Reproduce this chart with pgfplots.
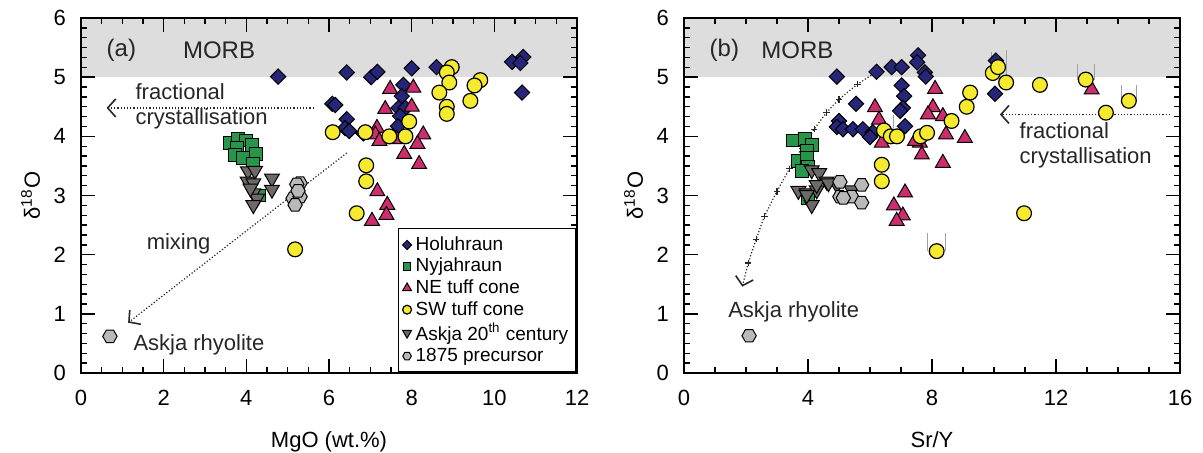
\documentclass[border=0pt]{standalone}
\usepackage{pgfplots}
\pgfplotsset{compat=1.18}
\usepackage{fontspec}
\setmainfont{Liberation Sans}
\usetikzlibrary{arrows.meta}

\definecolor{holu}{RGB}{38,38,120}
\definecolor{nyja}{RGB}{40,150,72}
\definecolor{necone}{RGB}{205,45,110}
\definecolor{swcone}{RGB}{245,234,45}
\definecolor{askja}{RGB}{110,105,105}
\definecolor{prec}{RGB}{185,185,185}
\definecolor{morb}{RGB}{221,221,221}
\definecolor{errc}{RGB}{160,160,160}

\pgfdeclareplotmark{hexagon*}{%
  \pgfpathmoveto{\pgfqpointpolar{0}{\pgfplotmarksize}}%
  \pgfpathlineto{\pgfqpointpolar{60}{\pgfplotmarksize}}%
  \pgfpathlineto{\pgfqpointpolar{120}{\pgfplotmarksize}}%
  \pgfpathlineto{\pgfqpointpolar{180}{\pgfplotmarksize}}%
  \pgfpathlineto{\pgfqpointpolar{240}{\pgfplotmarksize}}%
  \pgfpathlineto{\pgfqpointpolar{300}{\pgfplotmarksize}}%
  \pgfpathclose
  \pgfusepathqfillstroke}

\tikzset{
  annot/.style={font=\fontsize{11}{13}\selectfont, text=black!85},
  big/.style={font=\fontsize{12}{14}\selectfont, text=black!85},
}

\pgfplotsset{
  myax/.style={
    scale only axis, width=248pt, height=177.5pt,
    ymin=0, ymax=6, ytick={0,1,...,6}, minor y tick num=5,
    tick align=inside, major tick length=7pt, minor tick length=3pt,
    axis on top,
    axis line style={line width=0.8pt},
    every tick/.style={black, line width=0.7pt},
    /pgf/number format/assume math mode=true,
    every tick label/.append style={font=\fontsize{11}{13}\selectfont},
    xticklabel style={yshift=-5pt},
    yticklabel style={xshift=-4pt},
    label style={font=\fontsize{11}{13}\selectfont},
    xlabel style={yshift=-6pt},
    ylabel={δ\textsuperscript{18}O},
  },
  holu/.style={only marks, mark=square*, mark size=2.7pt, mark options={rotate=45, fill=holu, draw=black, line width=0.5pt}},
  nyja/.style={only marks, mark=square*, mark size=3.2pt, mark options={fill=nyja, draw=black, line width=0.5pt}},
  necone/.style={only marks, mark=triangle*, mark size=4.3pt, mark options={fill=necone, draw=black, line width=0.5pt}},
  swcone/.style={only marks, mark=*, mark size=3.7pt, mark options={fill=swcone, draw=black, line width=0.6pt}},
  askja/.style={only marks, mark=triangle*, mark size=4.3pt, mark options={rotate=180, fill=askja, draw=black, line width=0.5pt}},
  prec/.style={only marks, mark=hexagon*, mark size=3.6pt, mark options={fill=prec, draw=black, line width=0.5pt}},
  errb/.style={errc, line width=0.5pt, forget plot},
  fcarrow/.style={densely dotted, line width=0.6pt, black!85, -{Straight Barb[length=4pt,width=9pt,line width=0.8pt]}, forget plot},
}

\begin{document}
\begin{tikzpicture}
\begin{axis}[myax,
  xmin=0, xmax=12, xtick={0,2,...,12}, minor x tick num=3,
  xlabel={MgO (wt.\%)},
  legend style={at={(1,0)}, anchor=south east, draw=black, line width=0.8pt,
    font=\fontsize{9.5}{11}\selectfont, inner sep=2pt, row sep=-1.6pt},
  legend cell align=left,
  legend image post style={scale=0.6},
]
\addplot[fill=morb, draw=none, forget plot] coordinates {(0,5) (12,5) (12,6) (0,6)};

\addplot[fcarrow] coordinates {(5.63,4.48) (0.62,4.48)};
\addplot[fcarrow] coordinates {(6.43,3.72) (1.14,0.85)};

\addplot[holu] coordinates {
(4.77,5.01)(6.43,5.08)(7.02,5.0)(7.17,5.09)(8.0,5.15)(8.6,5.17)(10.43,5.26)(10.7,5.34)(10.63,5.24)(10.67,4.74)
(6.08,4.55)(6.15,4.53)(6.43,4.29)(6.39,4.14)(6.49,4.09)(7.8,4.87)(7.76,4.68)(7.68,4.48)(7.85,4.48)(7.72,4.34)(7.67,4.17)(6.83,4.05)};
\addlegendentry{Holuhraun}
\addplot[nyja] coordinates {
(3.61,3.89)(3.8,3.95)(3.99,3.93)(4.13,3.85)(3.77,3.8)(3.73,3.69)(3.92,3.63)(4.24,3.7)(4.17,3.53)(4.31,3.0)};
\addlegendentry{Nyjahraun}
\addplot[necone] coordinates {
(7.48,4.8)(8.04,4.82)(7.36,4.46)(8.0,4.5)(7.16,4.14)(7.12,4.03)(7.22,3.92)(7.64,3.95)(8.28,4.03)(8.14,3.87)
(7.82,3.7)(8.18,3.53)(7.17,3.07)(7.41,2.84)(7.39,2.67)(7.04,2.57)};
\addlegendentry{NE tuff cone}
\addplot[swcone] coordinates {
(8.97,5.17)(8.85,5.08)(8.91,4.91)(8.67,4.74)(9.66,4.95)(9.52,4.86)(9.42,4.6)(8.85,4.5)(8.85,4.38)(7.94,4.25)
(6.09,4.07)(6.88,4.07)(7.46,4.0)(7.85,4.0)(6.9,3.51)(6.9,3.24)(6.67,2.7)(5.18,2.09)};
\addlegendentry{SW tuff cone}
\addplot[askja] coordinates {
(4.04,3.41)(4.21,3.42)(4.03,3.24)(4.17,3.21)(4.62,3.29)(4.62,3.1)(4.17,3.04)(4.26,2.95)(4.17,2.84)(4.1,3.12)};
\addlegendentry{Askja 20\textsuperscript{th} century}
\addplot[prec] coordinates {
(5.3,3.21)(5.22,3.19)(5.13,2.95)(5.3,2.98)(5.18,2.84)(5.25,3.08)};
\addlegendentry{1875 precursor}
\addplot[prec, forget plot] coordinates {(0.7,0.62)};

\node[big, anchor=west] at (axis cs:0.45,5.45) {(a)};
\node[big] at (axis cs:3.34,5.45) {MORB};
\node[annot, anchor=west, align=left, font=\fontsize{11}{12.5}\selectfont] at (axis cs:1.15,4.5) {fractional\\crystallisation};
\node[annot] at (axis cs:2.36,2.19) {mixing};
\node[annot, anchor=west] at (axis cs:1.1,0.48) {Askja rhyolite};
\end{axis}

\begin{axis}[myax, at={(301.5pt,0pt)},
  xmin=0, xmax=16, xtick={0,4,...,16}, minor x tick num=3,
  xlabel={Sr/Y},
]
\addplot[fill=morb, draw=none, forget plot] coordinates {(0,5) (16,5) (16,6) (0,6)};

\addplot[fcarrow] coordinates {(15.68,4.37) (10.19,4.37)};
\addplot[densely dotted, line width=0.6pt, black!85, smooth, mark=+, mark size=1.6pt, mark options={solid}, forget plot] coordinates {
(6.3,5.12)(5.6,4.88)(5.0,4.62)(4.6,4.4)(4.2,4.12)(3.8,3.8)(3.4,3.45)(3.0,3.07)(2.6,2.65)(2.33,2.26)(2.07,1.86)};
\addplot[fcarrow] coordinates {(2.07,1.86)(1.88,1.46)};

\addplot[errb] coordinates {(7.87,2.06)(7.87,2.36)};
\addplot[errb] coordinates {(8.42,2.06)(8.42,2.36)};
\addplot[errb] coordinates {(9.92,5.18)(9.92,5.43)};
\addplot[errb] coordinates {(10.39,5.0)(10.39,5.46)};
\addplot[errb] coordinates {(12.7,4.95)(12.7,5.23)};
\addplot[errb] coordinates {(13.23,4.95)(13.23,5.23)};
\addplot[errb] coordinates {(14.12,4.61)(14.12,4.87)};
\addplot[errb] coordinates {(14.6,4.61)(14.6,4.87)};
\addplot[errb] coordinates {(6.75,4.14)(6.75,4.36)};

\addplot[holu] coordinates {
(4.93,5.01)(6.21,5.09)(6.7,5.17)(7.02,5.17)(7.55,5.37)(7.52,5.25)(7.77,5.08)(7.8,5.01)(7.02,4.86)(7.1,4.68)
(5.55,4.55)(7.06,4.48)(6.97,4.43)(5.0,4.26)(4.93,4.16)(5.13,4.12)(5.45,4.12)(5.77,4.12)(6.09,4.07)(6.0,3.99)
(7.13,4.17)(10.06,5.28)(10.03,4.72)};
\addplot[nyja] coordinates {
(3.51,3.93)(3.9,3.95)(4.12,3.86)(3.96,3.76)(3.68,3.58)(3.96,3.63)(4.0,3.49)(3.8,3.41)(4.0,2.95)};
\addplot[necone] coordinates {
(6.16,4.49)(6.29,4.28)(8.1,4.8)(8.03,4.49)(7.87,4.37)(6.38,3.89)(7.61,3.89)(7.45,3.92)(7.67,3.69)(7.13,3.05)
(8.35,4.34)(8.45,4.03)(9.06,3.97)(8.35,3.55)(13.15,4.79)(6.77,2.83)(7.06,2.66)(6.86,2.57)};
\addplot[swcone] coordinates {
(6.45,4.1)(6.67,4.0)(6.87,4.0)(7.63,4.0)(7.84,4.06)(6.38,3.52)(6.38,3.24)(8.63,4.26)(9.12,4.5)(9.23,4.74)
(9.96,5.07)(10.13,5.17)(10.39,4.91)(11.48,4.87)(12.96,4.96)(14.35,4.6)(13.61,4.4)(8.15,2.06)(10.97,2.7)};
\addplot[askja] coordinates {
(4.12,3.43)(4.36,3.38)(4.6,3.24)(4.93,3.18)(3.69,3.08)(3.96,3.04)(4.28,3.09)(5.41,3.09)(4.12,2.84)(4.28,3.18)(4.66,3.21)(3.96,3.01)};
\addplot[prec] coordinates {
(5.03,3.23)(5.73,3.18)(5.03,2.98)(5.41,2.98)(5.73,2.88)(5.14,2.96)};
\addplot[prec] coordinates {(2.1,0.63)};

\node[big, anchor=west] at (axis cs:0.6,5.45) {(b)};
\node[big] at (axis cs:3.66,5.45) {MORB};
\node[annot, anchor=west, align=left, font=\fontsize{11}{12.5}\selectfont] at (axis cs:10.6,3.85) {fractional\\crystallisation};
\node[annot, anchor=west] at (axis cs:1.2,1.04) {Askja rhyolite};
\end{axis}
\pgfresetboundingbox
\path[use as bounding box] (-40.5pt,-39.5pt) rectangle (561pt,186.5pt);
\end{tikzpicture}
\end{document}
